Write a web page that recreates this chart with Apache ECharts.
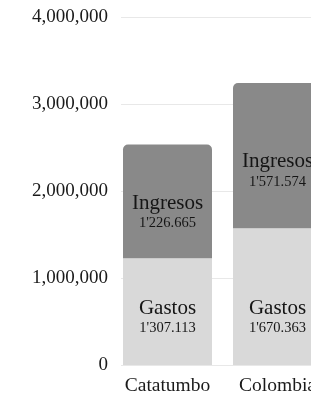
<!DOCTYPE html>
<html>
<head>
<meta charset="utf-8">
<script src="https://cdn.jsdelivr.net/npm/echarts@6/dist/echarts.min.js"></script>
<style>
  html, body { margin: 0; padding: 0; background: #fff; }
  #chart { width: 311px; height: 396px; }
</style>
</head>
<body>
<div id="chart"></div>
<script>
  // categorias y valores (altura de barras)
  var categories = ['Catatumbo', 'Colombia']
  var gastosValues = [1226665, 1571574]
  var ingresosValues = [1307113, 1670363]
  // textos que aparecen dentro de las barras
  var gastosText = ["1'307.113", "1'670.363"]
  var ingresosText = ["1'226.665", "1'571.574"]
  var yTicks = [0, 1000000, 2000000, 3000000, 4000000]

  var serif = 'Liberation Serif'
  var chart = echarts.init(document.getElementById('chart'))

  // desplazamiento de la etiqueta desde la base de cada tramo
  var gastosLabelDist = [27.5, 27.5]
  var ingresosLabelDist = [26, 37.5]

  function labelFor(name, txt, dist) {
    return {
      show: true,
      position: 'insideBottom',
      distance: dist,
      formatter: '{a|' + name + '}\n{b|' + txt + '}',
      rich: {
        a: { fontFamily: serif, fontSize: 21, lineHeight: 22, color: '#151515' },
        b: { fontFamily: serif, fontSize: 14.5, lineHeight: 18, color: '#151515' }
      }
    }
  }

  var gastosData = gastosValues.map(function (v, i) {
    return { value: v, label: labelFor('Gastos', gastosText[i], gastosLabelDist[i]) }
  })
  var ingresosData = ingresosValues.map(function (v, i) {
    return { value: v, label: labelFor('Ingresos', ingresosText[i], ingresosLabelDist[i]) }
  })

  chart.setOption({
    animation: false,
    grid: [
      // rejilla para las lineas guia y etiquetas del eje y
      { left: 121, right: 0, top: 17, bottom: 31, outerBoundsMode: 'none' },
      // rejilla de las barras (sale por la derecha)
      { left: 112.5, width: 220, top: 17, bottom: 31, outerBoundsMode: 'none' }
    ],
    xAxis: [
      { type: 'value', gridIndex: 0, min: 0, max: 1, show: false },
      {
        type: 'category',
        gridIndex: 1,
        data: categories,
        axisLine: { show: false },
        axisTick: { show: false },
        axisLabel: { fontFamily: serif, fontSize: 19.5, color: '#1a1a1a', margin: 11, interval: 0, hideOverlap: false }
      }
    ],
    yAxis: [
      {
        type: 'value',
        gridIndex: 0,
        min: yTicks[0],
        max: yTicks[yTicks.length - 1],
        interval: 1000000,
        axisLine: { show: false },
        axisTick: { show: false },
        splitLine: { lineStyle: { color: '#e8e8e8', width: 1 } },
        axisLabel: {
          fontFamily: serif,
          fontSize: 19,
          color: '#1a1a1a',
          margin: 13,
          formatter: function (v) { return v.toLocaleString('en-US') }
        }
      },
      {
        type: 'value',
        gridIndex: 1,
        min: yTicks[0],
        max: yTicks[yTicks.length - 1],
        interval: 1000000,
        show: false
      }
    ],
    series: [
      {
        name: 'Gastos',
        type: 'bar',
        xAxisIndex: 1,
        yAxisIndex: 1,
        stack: 'total',
        barWidth: 89,
        itemStyle: { color: '#d9d9d9' },
        data: gastosData
      },
      {
        name: 'Ingresos',
        type: 'bar',
        xAxisIndex: 1,
        yAxisIndex: 1,
        stack: 'total',
        barWidth: 89,
        itemStyle: { color: '#898989', borderRadius: [5, 5, 0, 0] },
        data: ingresosData
      }
    ]
  })
</script>
</body>
</html>
